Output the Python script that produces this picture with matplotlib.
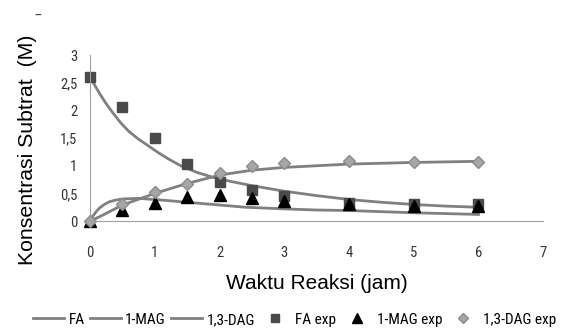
import numpy as np
import matplotlib
matplotlib.use('Agg')
import matplotlib.pyplot as plt

# model curves
t_fa = [0, 0.08, 0.15, 0.25, 0.35, 0.47, 0.6, 0.75, 0.9, 1.05, 1.2, 1.4, 1.65, 1.9, 2.2, 2.5, 3.0, 3.5, 4, 4.5, 5, 5.5, 6]
fa = [2.6, 2.44, 2.3, 2.12, 1.96, 1.78, 1.62, 1.48, 1.36, 1.24, 1.13, 1.0, 0.88, 0.79, 0.71, 0.64, 0.54, 0.46, 0.39, 0.34, 0.3, 0.27, 0.25]
t_mag = [0, 0.05, 0.1, 0.15, 0.22, 0.3, 0.4, 0.5, 0.75, 1.0, 1.4, 1.9, 2.4, 3.0, 3.5, 4, 5, 6]
mag = [0, 0.1, 0.18, 0.24, 0.3, 0.35, 0.38, 0.4, 0.41, 0.39, 0.35, 0.3, 0.25, 0.22, 0.2, 0.19, 0.15, 0.12]
t_dag = [0, 0.15, 0.5, 1.0, 1.5, 2.0, 2.5, 3.0, 4, 5, 6]
dag = [0, 0.08, 0.29, 0.5, 0.68, 0.83, 0.92, 0.97, 1.03, 1.06, 1.08]

# experimental points
t_exp = [0, 0.5, 1, 1.5, 2, 2.5, 3, 4, 5, 6]
fa_exp = [2.6, 2.07, 1.5, 1.04, 0.7, 0.56, 0.45, 0.32, 0.3, 0.3]
mag_exp = [0, 0.2, 0.33, 0.44, 0.47, 0.42, 0.36, 0.3, 0.28, 0.27]
dag_exp = [0, 0.31, 0.52, 0.67, 0.87, 1.0, 1.05, 1.09, 1.07, 1.07]

narrow = ['Liberation Sans Narrow', 'Roboto Condensed', 'Roboto', 'DejaVu Sans']
arial = ['Liberation Sans', 'DejaVu Sans']

fig = plt.figure(figsize=(5.7, 3.28), dpi=100)
ax = fig.add_axes([0.158, 0.326, 0.795, 0.506])

line_c = '#808080'
ax.plot(t_fa, fa, color=line_c, lw=2, label='FA')
ax.plot(t_mag, mag, color=line_c, lw=2, label='1-MAG')
ax.plot(t_dag, dag, color=line_c, lw=2, label='1,3-DAG')
ax.plot(t_exp, fa_exp, 's', color='#4a4a4a', ms=6.5, ls='none', label='FA exp', clip_on=False)
ax.plot(t_exp, mag_exp, '^', color='black', ms=9, ls='none', label='1-MAG exp', clip_on=False)
ax.plot(t_exp, dag_exp, 'D', mfc='#a6a6a6', mec='#8c8c8c', ms=6.5, ls='none', label='1,3-DAG exp', clip_on=False)

ax.set_xlim(0, 7)
ax.set_ylim(0, 3)
ax.set_xticks(range(0, 8))
ax.set_yticks([0, 0.5, 1, 1.5, 2, 2.5, 3])
ax.set_yticklabels(['0', '0,5', '1', '1,5', '2', '2,5', '3'])

for s in ['top', 'right']:
    ax.spines[s].set_visible(False)
ax.spines['left'].set_color('#a0a0a0')
ax.spines['bottom'].set_color('#a0a0a0')
ax.tick_params(length=0)
ax.tick_params(axis='y', pad=9)
ax.tick_params(axis='x', pad=18)
for lab in ax.get_xticklabels() + ax.get_yticklabels():
    lab.set_fontfamily(narrow)
    lab.set_fontsize(10.5)
    lab.set_color('#333333')

ax.set_xlabel('Waktu Reaksi (jam)', family=arial, fontsize=15, labelpad=10)
ax.set_ylabel('Konsentrasi Subtrat  (M)', family=arial, fontsize=15.3)
ax.yaxis.set_label_coords(-0.117, 0.43)

fig.text(0.06, 0.94, '–', fontsize=10, color='#333333')

leg = fig.legend(loc='center', bbox_to_anchor=(0.517, 0.025), ncol=6, frameon=False,
                 prop={'family': narrow, 'size': 11}, handlelength=2.0, columnspacing=0.35,
                 handletextpad=0.3, numpoints=1, markerscale=0.85)

fig.savefig('out.png', dpi=100)
